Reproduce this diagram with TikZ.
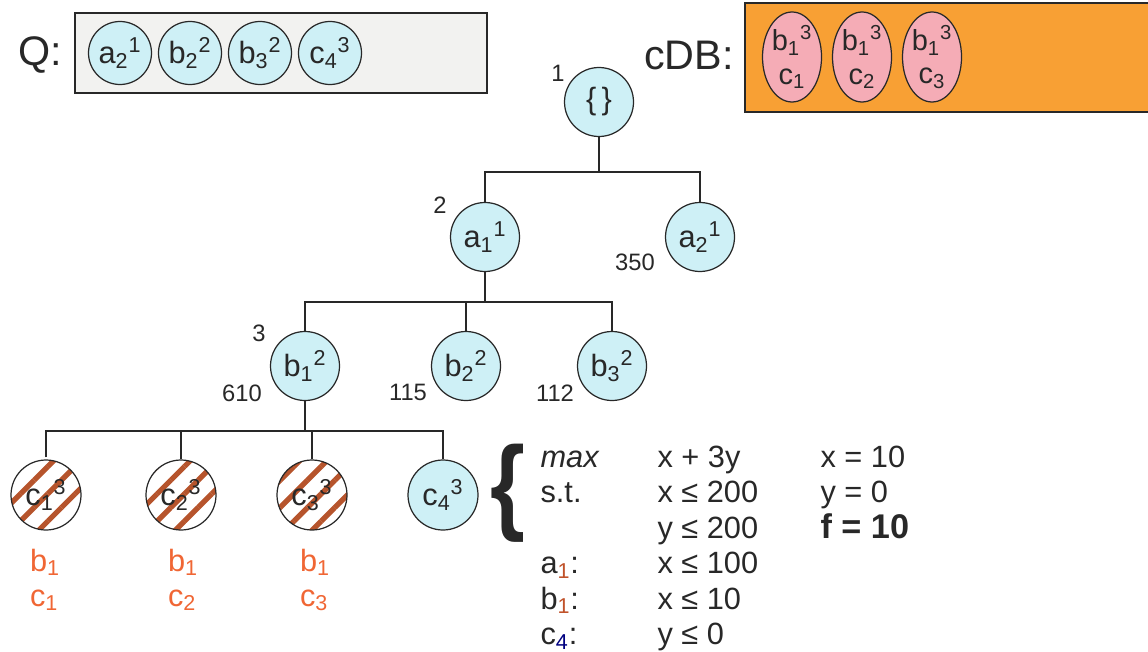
\documentclass[tikz,border=0pt]{standalone}
\usepackage{fontspec}
\setmainfont{Liberation Sans}
\usetikzlibrary{positioning,shapes.geometric,patterns.meta}

\definecolor{nodeblue}{RGB}{206,240,246}
\definecolor{qgray}{RGB}{242,242,240}
\definecolor{dborange}{RGB}{248,160,52}
\definecolor{dbpink}{RGB}{245,172,182}
\definecolor{hatch}{RGB}{182,84,44}
\definecolor{cutred}{RGB}{240,102,52}
\definecolor{ink}{RGB}{40,40,40}

% literal with index and level, e.g. a_1^1
\newcommand{\lit}[3]{#1\textsubscript{#2}\textsuperscript{#3}}

\begin{document}
\begin{tikzpicture}[color=ink,line width=0.6pt,font=\fontsize{17.5}{20}\selectfont]
\tikzstyle{litnode}=[circle,draw,line width=0.7pt,fill=nodeblue,minimum size=1.38cm,inner sep=0pt]
\tikzstyle{cutnode}=[circle,draw,line width=0.7pt,minimum size=1.4cm,inner sep=0pt,pattern={Lines[angle=45,distance=11pt,line width=3pt]},pattern color=hatch]
\tikzstyle{big}=[font=\fontsize{23.5}{24}\selectfont,anchor=east]
\tikzstyle{lbl}=[font=\fontsize{13.5}{14}\selectfont]
\tikzstyle{lp}=[anchor=base west,inner sep=0pt,font=\fontsize{17.5}{20}\selectfont]
\useasboundingbox (0,0) rectangle (22.96,-13.02);

% queue Q
\draw[fill=qgray,line width=0.7pt] (1.5,-0.26) rectangle (9.74,-1.86);
\node[big] (qname) at (1.36,-1.1) {Q:};
\foreach \va/\vb/\vc [count=\i] in {a/2/1,b/2/2,b/3/2,c/4/3}
  \node[litnode,minimum size=1.26cm] (q\i) at (1.0+1.4*\i,-1.06) {\lit{\va}{\vb}{\vc}};

% conflict database
\draw[fill=dborange,line width=0.7pt] (14.9,-0.06) rectangle (23.2,-2.24);
\node[big] (dbname) at (14.8,-1.1) {cDB:};
\foreach \i in {1,2,3}
  \node[ellipse,draw,line width=0.7pt,fill=dbpink,minimum width=1.18cm,minimum height=1.8cm,inner sep=0pt,align=center,font=\fontsize{16.5}{19}\selectfont] (db\i) at (14.44+1.4*\i,-1.14) {\lit{b}{1}{3}\\c\textsubscript{\i}};

% search tree
\node[litnode] (root) at (11.98,-2.04) {\{\,\}};
\node[litnode] (a1) at (9.7,-4.74) {\lit{a}{1}{1}};
\node[litnode] (a2) at (14.0,-4.74) {\lit{a}{2}{1}};
\node[litnode] (b1) at (6.1,-7.32) {\lit{b}{1}{2}};
\node[litnode] (b2) at (9.32,-7.32) {\lit{b}{2}{2}};
\node[litnode] (b3) at (12.24,-7.32) {\lit{b}{3}{2}};
\foreach \x [count=\i] in {0.92,3.62,6.24}
  \node[cutnode] (c\i) at (\x,-9.9) {\lit{c}{\i}{3}};
\node[litnode,minimum size=1.4cm] (c4) at (8.86,-9.9) {\lit{c}{4}{3}};

\draw (root) -- ++(0,-1.4) coordinate (j1);
\draw (a1) |- (j1) -| (a2);
\draw (a1) -- ++(0,-1.3) coordinate (j2);
\draw (b1) |- (j2) -| (b3);
\draw (b2) -- (b2 |- j2);
\draw (b1) -- ++(0,-1.3) coordinate (j3);
\draw (c1) |- (j3) -| (c4);
\draw (c2) -- (c2 |- j3);
\draw (c3) -- (c3 |- j3);

% order and bound labels
\node[lbl] (n1) at (11.16,-1.46) {1};
\node[lbl] (n2) at (8.8,-4.1) {2};
\node[lbl] (n3) at (5.18,-6.66) {3};
\node[lbl] (w2) at (12.7,-5.24) {350};
\node[lbl] (w1) at (4.84,-7.86) {610};
\node[lbl] (w3) at (8.16,-7.84) {115};
\node[lbl] (w4) at (11.1,-7.86) {112};

% conflicts found under the cut nodes
\foreach \x [count=\i] in {0.9,3.66,6.3}
  \node[text=cutred,align=left,font=\fontsize{17.5}{19.85}\selectfont] (k\i) at (\x,-11.6) {b\textsubscript{1}\\c\textsubscript{\i}};

% LP at node c4
\node[font=\fontsize{60}{60}\selectfont\bfseries,xscale=0.85] (brace) at (10.16,-9.86) {\{};
\node[lp] (lpa1) at (10.8,-9.34) {\textit{max}};
\node[lp] (lpa2) at (10.8,-10.05) {s.t.};
\node[lp] (lpa4) at (10.8,-11.47) {a\textsubscript{\textcolor{cutred!80!black}{1}}:};
\node[lp] (lpa5) at (10.8,-12.18) {b\textsubscript{\textcolor{cutred!80!black}{1}}:};
\node[lp] (lpa6) at (10.8,-12.89) {c\textsubscript{\textcolor{blue!50!black}{4}}:};
\node[lp] (lpb1) at (13.14,-9.34) {x + 3y};
\node[lp] (lpb2) at (13.14,-10.05) {x ≤ 200};
\node[lp] (lpb3) at (13.14,-10.76) {y ≤ 200};
\node[lp] (lpb4) at (13.14,-11.47) {x ≤ 100};
\node[lp] (lpb5) at (13.14,-12.18) {x ≤ 10};
\node[lp] (lpb6) at (13.14,-12.89) {y ≤ 0};
\node[lp] (lpc1) at (16.4,-9.34) {x = 10};
\node[lp] (lpc2) at (16.4,-10.05) {y = 0};
\node[lp,font=\fontsize{19.5}{20}\selectfont] (lpc3) at (16.4,-10.76) {\textbf{f = 10}};
\end{tikzpicture}
\end{document}
